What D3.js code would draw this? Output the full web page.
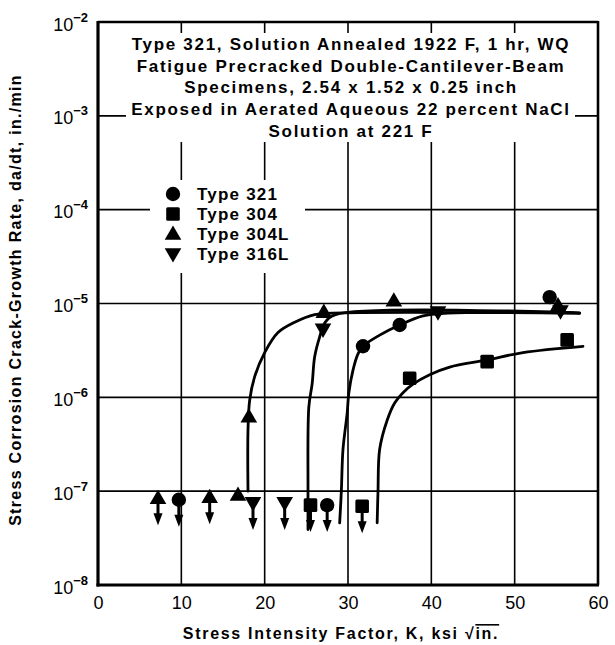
<!DOCTYPE html>
<html lang="en">
<head>
<meta charset="utf-8">
<script src="https://d3js.org/d3.v7.min.js"></script>
<style>
  body { margin: 0; background: #fff; }
  text { font-family: "Liberation Sans", Arial, sans-serif; fill: #000; }
</style>
</head>
<body>
<script>
// ---- data ----
var kTicks = [0, 10, 20, 30, 40, 50, 60];
var rateExponents = [-2, -3, -4, -5, -6, -7, -8];

var titleLines = [
  "Type 321, Solution Annealed 1922 F, 1 hr, WQ",
  "Fatigue Precracked Double-Cantilever-Beam",
  "Specimens, 2.54 x 1.52 x 0.25 inch",
  "Exposed in Aerated Aqueous 22 percent NaCl",
  "Solution at 221 F"
];

var seriesNames = ["Type 321", "Type 304", "Type 304L", "Type 316L"];
var seriesSymbols = ["circle", "square", "triUp", "triDown"];

// measured points; "below" = plotted with a downward arrow
var type321K    = [9.7, 27.5, 31.8, 36.2, 54.2];
var type321Rate = [8.1e-8, 7.1e-8, 3.5e-6, 5.9e-6, 1.17e-5];
var type321Below = [1, 1, 0, 0, 0];

var type304K    = [25.5, 31.7, 37.4, 46.7, 56.3];
var type304Rate = [7.1e-8, 6.9e-8, 1.6e-6, 2.4e-6, 4.1e-6];
var type304Below = [1, 1, 0, 0, 0];

var type304LK    = [7.2, 13.4, 16.8, 18.1, 27.1, 35.5, 55.2];
var type304LRate = [8.4e-8, 8.6e-8, 9.1e-8, 6.2e-7, 8.1e-6, 1.07e-5, 9.5e-6];
var type304LBelow = [1, 1, 0, 0, 0, 0, 0];

var type316LK    = [18.6, 22.4, 27.0, 40.8, 55.5];
var type316LRate = [7.5e-8, 7.5e-8, 5.3e-6, 8.1e-6, 8.3e-6];
var type316LBelow = [1, 1, 0, 0, 0];

// hand-drawn trend curves
var curve304LK    = [18.0, 18.0, 18.2, 18.8, 20.0, 21.6, 23.6, 26.0, 28.1, 57.8];
var curve304LRate = [1.0e-7, 4.5e-7, 9.3e-7, 1.66e-6, 3.0e-6, 4.9e-6, 6.3e-6, 7.6e-6, 7.9e-6, 7.9e-6];

var curve316LK    = [25.2, 25.2, 25.3, 25.7, 26.0, 26.6, 27.2, 28.5, 57.8];
var curve316LRate = [3.9e-8, 1.0e-7, 7.9e-7, 1.4e-6, 2.7e-6, 4.4e-6, 6.2e-6, 7.6e-6, 7.9e-6];

var curve321K    = [29.0, 29.2, 29.4, 29.9, 30.1, 30.6, 31.2, 31.8, 33.8, 36.2, 39.0, 42.0, 57.8];
var curve321Rate = [4.6e-8, 1.0e-7, 2.8e-7, 6.8e-7, 1.12e-6, 1.95e-6, 2.9e-6, 3.5e-6, 4.6e-6, 5.9e-6, 7.4e-6, 7.9e-6, 7.9e-6];

var curve304K    = [33.5, 33.6, 33.8, 34.7, 35.6, 36.6, 37.8, 39.8, 42.2, 46.7, 51.0, 58.2];
var curve304Rate = [4.6e-8, 1.0e-7, 2.8e-7, 5.7e-7, 8.7e-7, 1.12e-6, 1.38e-6, 1.74e-6, 2.1e-6, 2.5e-6, 3.0e-6, 3.5e-6];

// ---- layout ----
var W = 615, H = 645;
var plotL = 98, plotR = 598, plotT = 22, plotB = 585;

var x = d3.scaleLinear().domain([0, 60]).range([plotL, plotR]);
var y = d3.scaleLog().domain([1e-8, 1e-2]).range([plotB, plotT]);

var svg = d3.select("body").append("svg")
  .attr("width", W)
  .attr("height", H);

// grid
var gridK = kTicks.slice(1, -1);
var gridRate = rateExponents.slice(1, -1).map(function (e) { return Math.pow(10, e); });

svg.append("g").selectAll("line").data(gridK).enter().append("line")
  .attr("x1", function (d) { return x(d); }).attr("x2", function (d) { return x(d); })
  .attr("y1", plotT).attr("y2", plotB)
  .attr("stroke", "#000").attr("stroke-width", 1.6);

svg.append("g").selectAll("line").data(gridRate).enter().append("line")
  .attr("x1", plotL).attr("x2", plotR)
  .attr("y1", function (d) { return y(d); }).attr("y2", function (d) { return y(d); })
  .attr("stroke", "#000").attr("stroke-width", 1.6);

// white areas behind title block and legend (grid is broken there)
svg.append("rect").attr("x", 126).attr("y", 33).attr("width", 449).attr("height", 109).attr("fill", "#fff");
svg.append("rect").attr("x", 150).attr("y", 180).attr("width", 155).attr("height", 93).attr("fill", "#fff");

// frame
svg.append("line").attr("x1", plotL).attr("x2", plotL).attr("y1", plotT - 1).attr("y2", plotB + 1.5)
  .attr("stroke", "#000").attr("stroke-width", 3.2);
svg.append("line").attr("x1", plotL - 1.5).attr("x2", plotR + 1).attr("y1", plotB).attr("y2", plotB)
  .attr("stroke", "#000").attr("stroke-width", 3.2);
svg.append("line").attr("x1", plotL).attr("x2", plotR).attr("y1", plotT).attr("y2", plotT)
  .attr("stroke", "#000").attr("stroke-width", 2.6);
svg.append("line").attr("x1", plotR).attr("x2", plotR).attr("y1", plotT - 1).attr("y2", plotB)
  .attr("stroke", "#000").attr("stroke-width", 2.6);

// axes (labels only)
var xAxis = svg.append("g")
  .attr("transform", "translate(0," + plotB + ")")
  .call(d3.axisBottom(x).tickValues(kTicks).tickSize(0).tickPadding(11).tickFormat(d3.format("d")));
xAxis.select(".domain").remove();
xAxis.selectAll(".tick text")
  .style("font-family", "'Liberation Sans', Arial, sans-serif")
  .attr("font-size", 18).attr("fill", "#000");

var yAxis = svg.append("g")
  .attr("transform", "translate(" + plotL + ",0)")
  .call(d3.axisLeft(y).tickValues(rateExponents.map(function (e) { return Math.pow(10, e); }))
    .tickSize(0).tickPadding(10).tickFormat(function () { return ""; }));
yAxis.select(".domain").remove();
yAxis.selectAll(".tick text")
  .style("font-family", "'Liberation Sans', Arial, sans-serif")
  .attr("font-size", 18).attr("fill", "#000")
  .attr("dy", "0.45em")
  .each(function (d) {
    var t = d3.select(this);
    t.append("tspan").text("10");
    t.append("tspan").attr("dy", -9).attr("font-size", 13).attr("font-weight", "bold")
      .text("\u2212" + Math.round(-Math.log10(d)));
  });

// curves
var line = d3.line()
  .x(function (d) { return x(d[0]); })
  .y(function (d) { return y(d[1]); })
  .curve(d3.curveCatmullRom.alpha(0.5));

[[curve304LK, curve304LRate], [curve316LK, curve316LRate],
 [curve321K, curve321Rate], [curve304K, curve304Rate]].forEach(function (c) {
  svg.append("path")
    .datum(d3.zip(c[0], c[1]))
    .attr("d", line)
    .attr("fill", "none")
    .attr("stroke", "#000")
    .attr("stroke-width", 2.8)
    .attr("stroke-linecap", "round");
});

// markers
function drawSymbol(g, kind, cx, cy) {
  if (kind === "circle") {
    g.append("circle").attr("cx", cx).attr("cy", cy).attr("r", 7.2).attr("fill", "#000");
  } else if (kind === "square") {
    g.append("rect").attr("x", cx - 6.8).attr("y", cy - 6.8).attr("width", 13.6).attr("height", 13.6)
      .attr("rx", 1.5).attr("fill", "#000");
  } else {
    var rot = kind === "triDown" ? 180 : 0;
    g.append("path")
      .attr("d", d3.symbol().type(d3.symbolTriangle).size(120)())
      .attr("transform", "translate(" + cx + "," + (cy + (kind === "triDown" ? -1 : 1)) + ") rotate(" + rot + ")")
      .attr("fill", "#000");
  }
}

function drawArrow(g, cx, cy) {
  g.append("line").attr("x1", cx).attr("x2", cx).attr("y1", cy).attr("y2", cy + 18)
    .attr("stroke", "#000").attr("stroke-width", 3);
  g.append("path")
    .attr("d", "M" + (cx - 4.5) + "," + (cy + 15) + "L" + (cx + 4.5) + "," + (cy + 15) + "L" + cx + "," + (cy + 27) + "Z")
    .attr("fill", "#000");
}

var allSeries = [
  [type321K, type321Rate, type321Below],
  [type304K, type304Rate, type304Below],
  [type304LK, type304LRate, type304LBelow],
  [type316LK, type316LRate, type316LBelow]
];

var marks = svg.append("g");
allSeries.forEach(function (s, i) {
  s[0].forEach(function (k, j) {
    var cx = x(k), cy = y(s[1][j]);
    if (s[2][j]) drawArrow(marks, cx, cy);
    drawSymbol(marks, seriesSymbols[i], cx, cy);
  });
});

// legend
var legend = svg.append("g");
seriesNames.forEach(function (name, i) {
  var ly = 194 + i * 20;
  drawSymbol(legend, seriesSymbols[i], 173, ly);
  legend.append("text").attr("x", 197).attr("y", ly + 6)
    .attr("font-size", 17).attr("font-weight", "bold")
    .attr("letter-spacing", 1.2).text(name);
});

// title block
svg.append("g").selectAll("text").data(titleLines).enter().append("text")
  .attr("x", 351)
  .attr("y", function (d, i) { return 50 + i * 21.7; })
  .attr("text-anchor", "middle")
  .attr("font-size", 17)
  .attr("font-weight", "bold")
  .attr("letter-spacing", 1.7)
  .text(function (d) { return d; });

// axis titles
var xt = svg.append("text")
  .attr("x", 341).attr("y", 639)
  .attr("text-anchor", "middle")
  .attr("font-size", 16).attr("font-weight", "bold")
  .attr("letter-spacing", 1.7);
xt.append("tspan").text("Stress Intensity Factor, K, ksi \u221A");
xt.append("tspan").style("text-decoration", "overline").text("in.");

svg.append("text")
  .attr("transform", "translate(21,300) rotate(-90)")
  .attr("text-anchor", "middle")
  .attr("font-size", 16).attr("font-weight", "bold")
  .attr("letter-spacing", 1.3)
  .text("Stress Corrosion Crack-Growth Rate, da/dt, in./min");
</script>
</body>
</html>
